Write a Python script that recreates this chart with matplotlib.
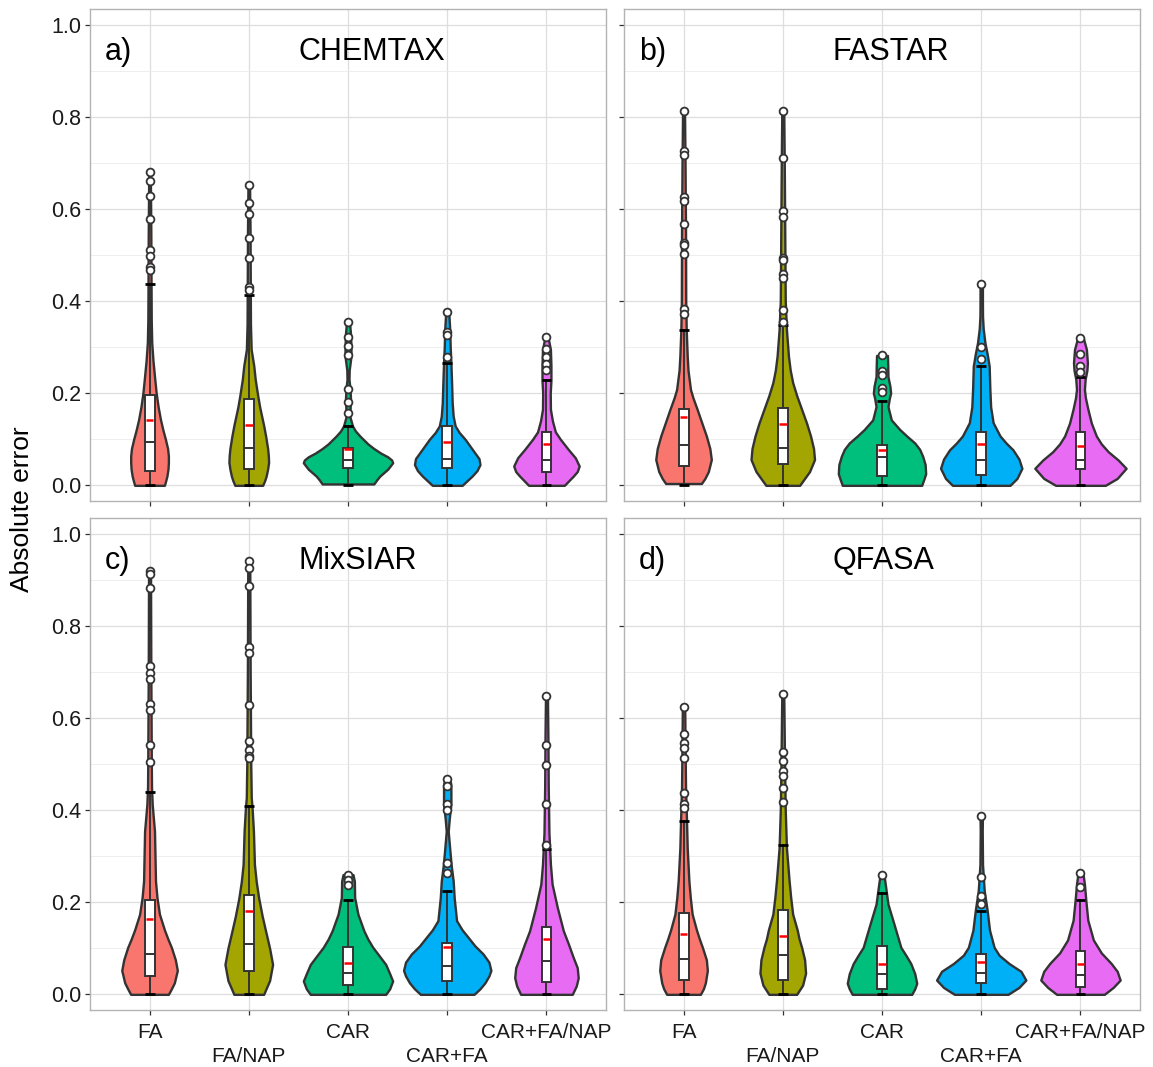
import numpy as np
import matplotlib.pyplot as plt

plt.rcParams['font.family'] = ['Liberation Sans', 'DejaVu Sans']

groups = ['FA', 'FA/NAP', 'CAR', 'CAR+FA', 'CAR+FA/NAP']
tick_labels = ['FA', '\nFA/NAP', 'CAR', '\nCAR+FA', 'CAR+FA/NAP']
colors = ['#F8766D', '#A3A500', '#00BF7D', '#00B0F6', '#E76BF3']
models = ['CHEMTAX', 'FASTAR', 'MixSIAR', 'QFASA']
letters = ['a)', 'b)', 'c)', 'd)']

# box stats per group: q1, median, q3, upper whisker, mean
chemtax_box = [[0.031, 0.095, 0.196, 0.437, 0.142],
               [0.035, 0.080, 0.188, 0.413, 0.130],
               [0.037, 0.054, 0.082, 0.129, 0.079],
               [0.037, 0.058, 0.129, 0.266, 0.095],
               [0.030, 0.055, 0.116, 0.228, 0.090]]
fastar_box = [[0.041, 0.087, 0.165, 0.338, 0.148],
              [0.046, 0.081, 0.167, 0.347, 0.133],
              [0.021, 0.061, 0.087, 0.184, 0.077],
              [0.022, 0.056, 0.116, 0.259, 0.090],
              [0.036, 0.056, 0.116, 0.236, 0.085]]
mixsiar_box = [[0.040, 0.087, 0.204, 0.439, 0.163],
               [0.051, 0.109, 0.216, 0.409, 0.180],
               [0.020, 0.047, 0.103, 0.205, 0.069],
               [0.030, 0.062, 0.111, 0.224, 0.103],
               [0.027, 0.072, 0.146, 0.316, 0.120]]
qfasa_box = [[0.032, 0.077, 0.176, 0.377, 0.132],
             [0.032, 0.085, 0.184, 0.325, 0.126],
             [0.012, 0.045, 0.105, 0.220, 0.065],
             [0.025, 0.047, 0.088, 0.181, 0.070],
             [0.017, 0.041, 0.094, 0.204, 0.065]]

# outliers
chemtax_out = [[0.681, 0.660, 0.627, 0.579, 0.510, 0.498, 0.473, 0.468],
               [0.653, 0.612, 0.589, 0.537, 0.493, 0.430, 0.425],
               [0.354, 0.323, 0.302, 0.284, 0.210, 0.181, 0.158],
               [0.377, 0.333, 0.326, 0.278],
               [0.322, 0.297, 0.278, 0.264, 0.250]]
fastar_out = [[0.812, 0.725, 0.717, 0.626, 0.618, 0.568, 0.527, 0.522, 0.502, 0.382, 0.372],
              [0.812, 0.710, 0.595, 0.583, 0.494, 0.490, 0.459, 0.449, 0.381, 0.354],
              [0.282, 0.249, 0.239, 0.212, 0.202],
              [0.437, 0.301, 0.275],
              [0.319, 0.286, 0.259, 0.246]]
mixsiar_out = [[0.918, 0.913, 0.881, 0.713, 0.697, 0.685, 0.631, 0.618, 0.542, 0.505],
               [0.941, 0.925, 0.887, 0.753, 0.741, 0.629, 0.550, 0.531, 0.518, 0.513],
               [0.260, 0.249, 0.238],
               [0.468, 0.452, 0.414, 0.401, 0.286, 0.263],
               [0.647, 0.542, 0.497, 0.413, 0.325]]
qfasa_out = [[0.623, 0.565, 0.546, 0.534, 0.513, 0.438, 0.414, 0.404],
             [0.651, 0.525, 0.507, 0.484, 0.475, 0.447, 0.418],
             [0.259],
             [0.388, 0.255, 0.213, 0.197],
             [0.263, 0.234]]

# violin outlines: heights and half widths
chemtax_vy = [[0, 0.01, 0.02, 0.035, 0.05, 0.064, 0.08, 0.10, 0.12, 0.143, 0.17, 0.2, 0.23, 0.27, 0.31, 0.36, 0.45, 0.55, 0.681],
              [0, 0.01, 0.02, 0.035, 0.05, 0.065, 0.08, 0.107, 0.13, 0.15, 0.17, 0.195, 0.23, 0.26, 0.295, 0.35, 0.45, 0.55, 0.653],
              [0.003, 0.012, 0.02, 0.035, 0.049, 0.055, 0.062, 0.07, 0.08, 0.09, 0.107, 0.118, 0.129, 0.15, 0.17, 0.19, 0.21, 0.23, 0.25, 0.28, 0.30, 0.33, 0.354],
              [0, 0.01, 0.02, 0.032, 0.045, 0.058, 0.07, 0.085, 0.10, 0.115, 0.129, 0.15, 0.179, 0.222, 0.266, 0.30, 0.34, 0.377],
              [0, 0.01, 0.02, 0.03, 0.042, 0.06, 0.078, 0.10, 0.116, 0.14, 0.165, 0.2, 0.228, 0.26, 0.295, 0.322]]
chemtax_vw = [[0.15, 0.163, 0.175, 0.186, 0.19, 0.19, 0.182, 0.16, 0.135, 0.11, 0.087, 0.067, 0.053, 0.035, 0.022, 0.017, 0.015, 0.013, 0.008],
              [0.14, 0.16, 0.175, 0.19, 0.20, 0.197, 0.19, 0.17, 0.15, 0.13, 0.11, 0.09, 0.065, 0.05, 0.024, 0.017, 0.015, 0.013, 0.008],
              [0.26, 0.29, 0.32, 0.40, 0.45, 0.44, 0.40, 0.33, 0.26, 0.2, 0.12, 0.075, 0.045, 0.018, 0.022, 0.025, 0.02, 0.01, 0.012, 0.03, 0.03, 0.025, 0.015],
              [0.15, 0.20, 0.25, 0.30, 0.33, 0.32, 0.28, 0.23, 0.18, 0.12, 0.08, 0.06, 0.05, 0.044, 0.037, 0.03, 0.025, 0.015],
              [0.18, 0.225, 0.27, 0.31, 0.33, 0.29, 0.22, 0.14, 0.09, 0.06, 0.04, 0.038, 0.045, 0.045, 0.04, 0.015]]

fastar_vy = [[0.004, 0.015, 0.03, 0.056, 0.08, 0.107, 0.135, 0.165, 0.19, 0.208, 0.25, 0.281, 0.338, 0.40, 0.555, 0.7, 0.812],
             [0, 0.015, 0.03, 0.056, 0.08, 0.107, 0.135, 0.165, 0.195, 0.223, 0.25, 0.281, 0.338, 0.40, 0.55, 0.7, 0.812],
             [0, 0.012, 0.025, 0.045, 0.063, 0.078, 0.092, 0.107, 0.121, 0.142, 0.171, 0.19, 0.200, 0.215, 0.236, 0.26, 0.282],
             [0, 0.015, 0.037, 0.057, 0.077, 0.092, 0.107, 0.136, 0.17, 0.208, 0.259, 0.285, 0.31, 0.34, 0.367, 0.40, 0.437],
             [0, 0.015, 0.037, 0.055, 0.073, 0.09, 0.107, 0.135, 0.165, 0.19, 0.208, 0.23, 0.25, 0.266, 0.295, 0.319]]
fastar_vw = [[0.18, 0.215, 0.25, 0.28, 0.265, 0.23, 0.185, 0.137, 0.095, 0.07, 0.045, 0.037, 0.027, 0.022, 0.02, 0.015, 0.01],
             [0.17, 0.22, 0.27, 0.32, 0.31, 0.28, 0.24, 0.19, 0.14, 0.10, 0.075, 0.057, 0.037, 0.025, 0.02, 0.015, 0.01],
             [0.40, 0.42, 0.44, 0.435, 0.41, 0.38, 0.33, 0.25, 0.18, 0.094, 0.06, 0.075, 0.087, 0.08, 0.06, 0.058, 0.055],
             [0.29, 0.36, 0.41, 0.38, 0.32, 0.25, 0.19, 0.12, 0.095, 0.087, 0.08, 0.06, 0.037, 0.02, 0.013, 0.012, 0.012],
             [0.25, 0.37, 0.46, 0.38, 0.28, 0.21, 0.16, 0.11, 0.075, 0.05, 0.04, 0.047, 0.065, 0.07, 0.06, 0.03]]

mixsiar_vy = [[0, 0.012, 0.025, 0.052, 0.075, 0.102, 0.12, 0.14, 0.174, 0.21, 0.246, 0.30, 0.354, 0.412, 0.45, 0.5, 0.7, 0.918],
              [0, 0.015, 0.03, 0.065, 0.10, 0.137, 0.17, 0.209, 0.245, 0.282, 0.354, 0.40, 0.427, 0.5, 0.7, 0.941],
              [0, 0.012, 0.029, 0.045, 0.065, 0.085, 0.102, 0.12, 0.138, 0.174, 0.21, 0.246, 0.26],
              [0, 0.012, 0.025, 0.04, 0.052, 0.07, 0.088, 0.105, 0.124, 0.14, 0.16, 0.21, 0.246, 0.28, 0.311, 0.354, 0.38, 0.412, 0.455, 0.468],
              [0, 0.018, 0.036, 0.058, 0.08, 0.11, 0.138, 0.188, 0.239, 0.282, 0.35, 0.45, 0.55, 0.647]]
mixsiar_vw = [[0.19, 0.22, 0.25, 0.28, 0.26, 0.22, 0.185, 0.15, 0.10, 0.075, 0.06, 0.055, 0.05, 0.027, 0.02, 0.018, 0.013, 0.01],
              [0.15, 0.18, 0.21, 0.24, 0.21, 0.17, 0.135, 0.10, 0.075, 0.057, 0.047, 0.035, 0.025, 0.02, 0.014, 0.01],
              [0.38, 0.42, 0.45, 0.42, 0.38, 0.31, 0.25, 0.2, 0.16, 0.10, 0.067, 0.064, 0.05],
              [0.27, 0.33, 0.38, 0.42, 0.44, 0.42, 0.36, 0.28, 0.21, 0.15, 0.094, 0.07, 0.06, 0.04, 0.027, 0.01, 0.02, 0.037, 0.037, 0.025],
              [0.26, 0.30, 0.32, 0.31, 0.27, 0.22, 0.17, 0.11, 0.057, 0.04, 0.025, 0.018, 0.015, 0.01]]

qfasa_vy = [[0, 0.012, 0.025, 0.052, 0.075, 0.102, 0.12, 0.14, 0.174, 0.21, 0.246, 0.318, 0.377, 0.45, 0.55, 0.623],
            [0, 0.01, 0.02, 0.046, 0.075, 0.102, 0.12, 0.14, 0.174, 0.21, 0.246, 0.318, 0.40, 0.5, 0.651],
            [0, 0.012, 0.024, 0.045, 0.067, 0.085, 0.102, 0.153, 0.196, 0.239, 0.259],
            [0, 0.015, 0.031, 0.05, 0.067, 0.085, 0.102, 0.139, 0.182, 0.225, 0.282, 0.354, 0.388],
            [0, 0.015, 0.031, 0.05, 0.067, 0.09, 0.118, 0.161, 0.204, 0.239, 0.263]]
qfasa_vw = [[0.17, 0.20, 0.22, 0.24, 0.23, 0.19, 0.16, 0.13, 0.087, 0.068, 0.054, 0.037, 0.03, 0.02, 0.015, 0.012],
            [0.14, 0.17, 0.2, 0.23, 0.22, 0.19, 0.165, 0.145, 0.10, 0.08, 0.064, 0.037, 0.025, 0.018, 0.01],
            [0.30, 0.33, 0.35, 0.33, 0.29, 0.24, 0.19, 0.12, 0.06, 0.033, 0.02],
            [0.27, 0.38, 0.45, 0.40, 0.28, 0.18, 0.13, 0.084, 0.06, 0.03, 0.013, 0.01, 0.012],
            [0.24, 0.33, 0.40, 0.37, 0.31, 0.21, 0.13, 0.074, 0.054, 0.04, 0.025]]

box_all = [chemtax_box, fastar_box, mixsiar_box, qfasa_box]
out_all = [chemtax_out, fastar_out, mixsiar_out, qfasa_out]
vy_all = [chemtax_vy, fastar_vy, mixsiar_vy, qfasa_vy]
vw_all = [chemtax_vw, fastar_vw, mixsiar_vw, qfasa_vw]

W, H = 1153, 1067
fig = plt.figure(figsize=(W / 100, H / 100), dpi=100)

# panel positions in pixels: left, top
pos = [(90, 9), (624, 9), (90, 518), (624, 518)]
pw, ph = 516, 492
dark = '#333333'
bw = 0.1

for i in range(4):
    left, top = pos[i]
    ax = fig.add_axes([left / W, 1 - (top + ph) / H, pw / W, ph / H])
    ax.set_xlim(0.4, 5.6)
    ax.set_ylim(-0.034, 1.034)

    ax.set_yticks(np.arange(0, 1.01, 0.2))
    ax.set_yticks(np.arange(0.1, 1.0, 0.2), minor=True)
    ax.set_xticks(range(1, 6))
    ax.grid(True, which='major', color='#DEDEDE', lw=0.9)
    ax.grid(True, which='minor', axis='y', color='#EBEBEB', lw=0.6)
    ax.set_axisbelow(True)
    for s in ax.spines.values():
        s.set_color('#B3B3B3')
        s.set_linewidth(1.0)
    ax.tick_params(axis='both', which='major', length=3.6, width=0.9, color=dark,
                   labelsize=15.5, pad=2.5, labelcolor='#1A1A1A')
    ax.tick_params(axis='x', which='major', pad=5.5)
    ax.tick_params(axis='y', which='minor', length=0)
    if i >= 2:
        ax.set_xticklabels(tick_labels, fontsize=15, linespacing=1.33)
    else:
        ax.set_xticklabels([])
    if i % 2 == 0:
        ax.set_yticklabels(['0.0', '0.2', '0.4', '0.6', '0.8', '1.0'])
    else:
        ax.set_yticklabels([])

    for g in range(5):
        c = g + 1
        vy = np.array(vy_all[i][g])
        vw = np.array(vw_all[i][g])
        ax.fill_betweenx(vy, c - vw, c + vw, facecolor=colors[g],
                         edgecolor=dark, lw=1.7, zorder=2)
        q1, med, q3, whi, mean = box_all[i][g]
        ax.plot([c, c], [0, whi], color=dark, lw=1.4, zorder=3)
        ax.add_patch(plt.Rectangle((c - bw / 2, q1), bw, q3 - q1, facecolor='white',
                                   edgecolor=dark, lw=1.4, zorder=4))
        ax.plot([c - bw / 2, c + bw / 2], [med, med], color=dark, lw=1.4, zorder=5)
        ax.plot([c - bw / 2 + 0.012, c + bw / 2 - 0.012], [mean, mean], color='red',
                lw=1.8, zorder=5, solid_capstyle='butt')
        ax.plot([c - bw / 2, c + bw / 2], [whi, whi], color='black', lw=2.0,
                zorder=5, solid_capstyle='butt')
        ax.plot([c - bw / 2, c + bw / 2], [0, 0], color='black', lw=2.0,
                zorder=5, solid_capstyle='butt')
        outs = out_all[i][g]
        ax.plot([c] * len(outs), outs, 'o', ms=5.6, mfc='white', mec=dark,
                mew=1.3, zorder=6)

    ax.text(0.55, 0.924, letters[i], fontsize=22, ha='left', va='baseline')
    ax.text(2.5, 0.924, models[i], fontsize=22, ha='left', va='baseline')

fig.text(22 / W, 1 - 509 / H, 'Absolute error', rotation=90, fontsize=19,
         ha='center', va='center')

fig.savefig('out.png', dpi=100)
